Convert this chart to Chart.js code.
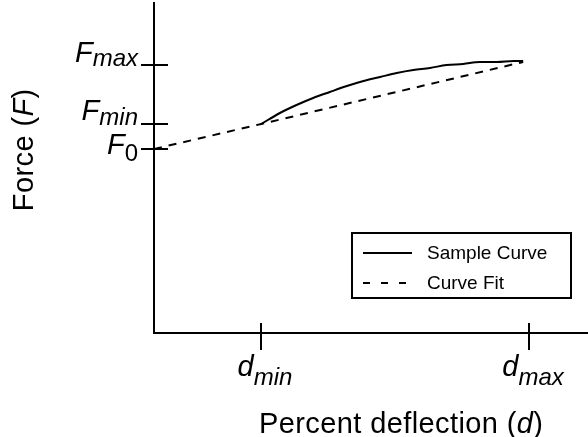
<!DOCTYPE html>
<html>
<head>
<meta charset="utf-8">
<script src="https://cdn.jsdelivr.net/npm/chart.js@4.4.1/dist/chart.umd.min.js"></script>
<style>
  html, body { margin: 0; padding: 0; background: #fff; }
</style>
</head>
<body>
<canvas id="myChart" width="588" height="437"></canvas>
<script>
// values (x = percent deflection, y = force)
const sampleX = [2.0, 2.35, 2.66, 2.97, 3.28, 3.6, 3.91, 4.22, 4.53, 4.84, 5.15, 5.46, 5.77, 6.08, 6.4, 6.71, 6.89];
const sampleY = [20.9, 22.0, 22.8, 23.5, 24.1, 24.7, 25.2, 25.6, 26.0, 26.3, 26.5, 26.8, 26.9, 27.1, 27.1, 27.2, 27.2];
const fitX = [0, 2.0, 6.89];
const fitY = [18.4, 20.9, 27.1];
const xTicks = [2, 7];
const xTickSubs = ["min", "max"];
const yTicks = [18.4, 20.9, 26.8];
const yTickSubs = ["0", "min", "max"];
const seriesLabels = ["Sample Curve", "Curve Fit"];

const FONT = '"Liberation Sans", Arial, sans-serif';

function setFont(ctx, p) {
  ctx.font = (p.i ? "italic " : "") + p.s + "px " + FONT;
  ctx.letterSpacing = (p.ls || 0) + "px";
}

function runWidth(ctx, parts) {
  let w = 0;
  parts.forEach(p => { setFont(ctx, p); w += ctx.measureText(p.t).width; });
  return w;
}

function drawRun(ctx, parts, x, y, align) {
  const w = runWidth(ctx, parts);
  let cx = align === "right" ? x - w : align === "center" ? x - w / 2 : x;
  ctx.textAlign = "left";
  ctx.textBaseline = "alphabetic";
  parts.forEach(p => {
    setFont(ctx, p);
    ctx.fillText(p.t, cx, y + (p.dy || 0));
    cx += ctx.measureText(p.t).width;
  });
}

function seg(ctx, x1, y1, x2, y2) {
  ctx.beginPath();
  ctx.moveTo(x1, y1);
  ctx.lineTo(x2, y2);
  ctx.stroke();
}

// label nudges for the y tick labels (F0, Fmin, Fmax)
const yLabelShift = [5, -4, -3];
const ySubDrop = [7, 5, 4];

const annotations = {
  id: "annotations",
  afterDraw(chart) {
    const { ctx, chartArea, scales } = chart;
    const xs = scales.x, ys = scales.y;
    ctx.save();
    ctx.strokeStyle = "#000";
    ctx.fillStyle = "#000";
    ctx.lineWidth = 2;

    // y ticks + labels
    yTicks.forEach((v, i) => {
      const py = Math.round(ys.getPixelForValue(v));
      seg(ctx, chartArea.left - 13, py, chartArea.left + 14, py);
      drawRun(ctx, [
        { t: "F", i: true, s: 29 },
        { t: yTickSubs[i], i: yTickSubs[i] !== "0", s: 24, dy: ySubDrop[i] }
      ], chartArea.left - 16, py + yLabelShift[i], "right");
    });

    // x ticks + labels
    xTicks.forEach((v, i) => {
      const px = Math.round(xs.getPixelForValue(v));
      seg(ctx, px, chartArea.bottom - 10, px, chartArea.bottom + 17);
      drawRun(ctx, [
        { t: "d", i: true, s: 29 },
        { t: xTickSubs[i], i: true, s: 24, dy: 9 }
      ], px + 4, chartArea.bottom + 43, "center");
    });

    // axis titles
    drawRun(ctx, [
      { t: "Percent deflection (", s: 29, ls: 0.4 },
      { t: "d", i: true, s: 29, ls: 0.4 },
      { t: ")", s: 29 }
    ], 401, 433, "center");

    ctx.save();
    ctx.translate(33, 150);
    ctx.rotate(-Math.PI / 2);
    drawRun(ctx, [
      { t: "Force (", s: 29, ls: 0.4 },
      { t: "F", i: true, s: 29, ls: 0.4 },
      { t: ")", s: 29 }
    ], 0, 0, "center");
    ctx.restore();

    // legend box
    const lx = chartArea.right - 236, ly = chartArea.bottom - 100;
    ctx.lineWidth = 2;
    ctx.strokeRect(lx, ly, 219, 65);
    chart.data.datasets.forEach((ds, i) => {
      const iy = ly + 20 + i * 30;
      ctx.lineWidth = 2;
      ctx.setLineDash(ds.borderDash && ds.borderDash.length ? [7, 11] : []);
      seg(ctx, lx + 11, iy, lx + 60, iy);
      ctx.setLineDash([]);
      setFont(ctx, { s: 19 });
      ctx.textAlign = "left";
      ctx.textBaseline = "middle";
      ctx.fillText(ds.label, lx + 75, iy + 1);
    });

    ctx.restore();
  }
};

const axisOpts = (min, max) => ({
  type: "linear",
  min: min,
  max: max,
  ticks: { display: false },
  grid: { display: false, drawTicks: false },
  border: { display: true, color: "#000", width: 2 },
  title: { display: false }
});

const ctx = document.getElementById("myChart");
const myChart = new Chart(ctx, {
  type: "scatter",
  data: {
    datasets: [
      {
        label: seriesLabels[0],
        data: sampleX.map((x, i) => ({ x: x, y: sampleY[i] })),
        showLine: true,
        borderColor: "#000",
        borderWidth: 2,
        pointRadius: 0,
        cubicInterpolationMode: "monotone",
        borderDash: []
      },
      {
        label: seriesLabels[1],
        data: fitX.map((x, i) => ({ x: x, y: fitY[i] })),
        showLine: true,
        borderColor: "#000",
        borderWidth: 2,
        pointRadius: 0,
        borderDash: [8, 7]
      }
    ]
  },
  options: {
    responsive: false,
    animation: false,
    layout: { padding: { left: 154, top: 3, right: 0, bottom: 104 } },
    scales: {
      x: axisOpts(0, 8.1),
      y: axisOpts(0, 33)
    },
    plugins: {
      legend: { display: false },
      tooltip: { enabled: false }
    }
  },
  plugins: [annotations]
});
</script>
</body>
</html>
